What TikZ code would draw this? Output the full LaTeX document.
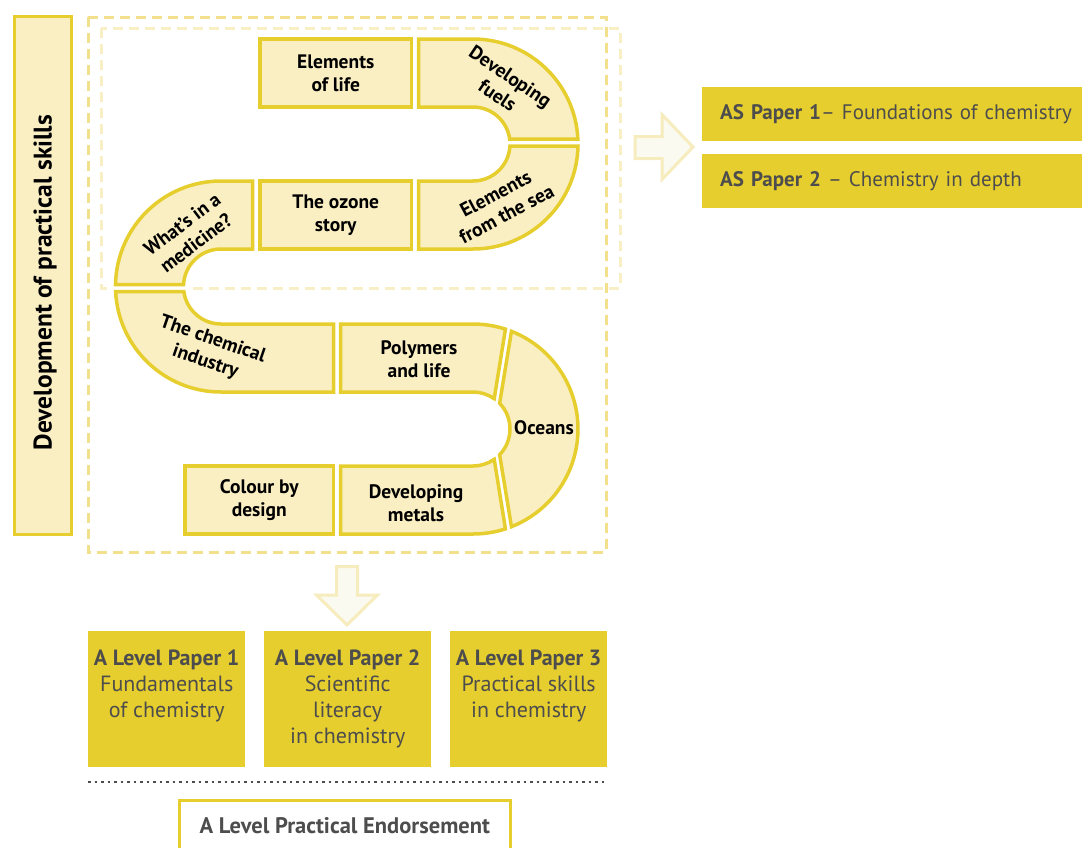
\documentclass[tikz,border=0pt]{standalone}
\usepackage{fontspec}
\setmainfont{PT Sans}
\usetikzlibrary{positioning}
\definecolor{gold}{HTML}{E6CE2E}
\definecolor{cream}{HTML}{FAEEC3}
\definecolor{dashgold}{HTML}{F2E08C}
\definecolor{dashpale}{HTML}{F8EFC6}
\definecolor{inkgray}{HTML}{4D4D4D}
\definecolor{arrowfill}{HTML}{FAFAF0}
\definecolor{arrowline}{HTML}{F6ECBE}

\begin{document}
\begin{tikzpicture}[x=1pt,y=-1pt]

\tikzset{tile/.style={draw=gold, fill=cream, line width=3.5pt},
  tiletext/.style={font=\fontsize{19.5}{23}\selectfont\bfseries, align=center, inner sep=0pt},
  paper/.style={fill=gold, minimum height=136pt, inner sep=0pt, anchor=north west},
  papertext/.style={text=inkgray, align=center, inner sep=0pt, font=\fontsize{22}{26}\selectfont},
  asbox/.style={fill=gold, text=inkgray, anchor=north west, minimum height=54pt,
    inner xsep=18pt, text width=360pt, align=left, font=\fontsize{21}{24}\selectfont},
  hollow/.style={draw=arrowline, fill=arrowfill, line width=3pt},
  dashframe/.style={line width=3pt, dash pattern=on 10pt off 6pt}}

\useasboundingbox (0,0) rectangle (1082,847);

% frames
\draw[dashframe, dashgold] (88,17) rectangle (606,552);
\draw[dashframe, dashpale] (101,28) rectangle (620,288);
\fill[white] (110,284) rectangle (190,290);

\node[tile, minimum width=57pt, minimum height=518pt] (skills) at (43,275.5) {};
\node[tiletext, rotate=90, font=\fontsize{25.5}{28}\selectfont\bfseries] (skillstext) at (45,282.5)
  {Development of practical skills};

% the track
\node[tile, tiletext, minimum width=151.5pt, minimum height=68pt] (life) at (335.75,73) {Elements\\of life};
\draw[tile] (418.5,39) -- (473,39) arc[start angle=-90, end angle=-2.73, radius=105]
  -- (509.66,139) arc[start angle=-7.77, end angle=-90, radius=37] -- (418.5,107) -- cycle;
\draw[tile] (418.5,181) -- (473,181) arc[start angle=90, end angle=3.10, radius=37]
  -- (577.98,146) arc[start angle=1.09, end angle=90, radius=105] -- (418.5,249) -- cycle;
\node[tile, tiletext, minimum width=151.5pt, minimum height=68pt] (ozone) at (335.75,215) {The ozone\\story};
\draw[tile] (252.5,181) -- (221,181) arc[start angle=-90, end angle=-178.91, radius=105.5]
  -- (183.55,284.5) arc[start angle=-176.94, end angle=-90, radius=37.5] -- (252.5,249) -- cycle;
\draw[tile] (333.5,324) -- (221,324) arc[start angle=90, end angle=172.34, radius=37.5]
  -- (115.62,291.5) arc[start angle=177.28, end angle=90, radius=105.5] -- (333.5,392) -- cycle;
\draw[tile] (340.5,324) -- (473,324) arc[start angle=-90, end angle=-72, radius=105]
  -- (494.22,398.69) arc[start angle=-55, end angle=-90, radius=37] -- (340.5,392) -- cycle;
\draw[tile] (511.45,331.3) arc[start angle=-68.5, end angle=68.5, radius=105]
  -- (499.62,454.7) arc[start angle=44, end angle=-44, radius=37] -- cycle;
\draw[tile] (340.5,466) -- (473,466) arc[start angle=90, end angle=55, radius=37]
  -- (505.45,528.86) arc[start angle=72, end angle=90, radius=105] -- (340.5,534) -- cycle;
\node[tile, tiletext, minimum width=148.5pt, minimum height=68pt] (colour) at (259.25,500) {Colour by\\design};

\node[tiletext, rotate=-34] (fuels) at (504,86) {Developing\\fuels};
\node[tiletext, rotate=28] (sea) at (501,204) {Elements\\from the sea};
\node[tiletext, rotate=37] (medicine) at (189,233.5) {What’s in a\\medicine?};
\node[tiletext, rotate=-19] (chemical) at (209,351) {The chemical\\industry};
\node[tiletext] (polymers) at (419,359) {Polymers\\and life};
\node[tiletext] (oceans) at (544,428) {Oceans};
\node[tiletext] (metals) at (416,503) {Developing\\metals};

% AS papers
\draw[hollow] (635,136.5) -- (662,136.5) -- (662,114.5) -- (693,147) -- (662,179.5)
  -- (662,158.5) -- (635,158.5) -- cycle;
\node[asbox] (as1) at (702,87) {\textbf{AS Paper 1}– Foundations of chemistry};
\node[asbox] (as2) at (702,154) {\textbf{AS Paper 2} – Chemistry in depth};

% A level papers
\draw[hollow] (336.5,566.5) -- (357.5,566.5) -- (357.5,595) -- (377.5,595) -- (347,625)
  -- (316.5,595) -- (336.5,595) -- cycle;
\node[paper, minimum width=157pt] (p1) at (88,631) {};
\node[paper, minimum width=167pt] (p2) at (264,631) {};
\node[paper, minimum width=157pt] (p3) at (450,631) {};
\node[papertext, below=19pt of p1.north] (p1text) {\textbf{A Level Paper 1}\\Fundamentals\\of chemistry};
\node[papertext, below=19pt of p2.north] (p2text) {\textbf{A Level Paper 2}\\Scientific\\literacy\\in chemistry};
\node[papertext, below=19pt of p3.north] (p3text) {\textbf{A Level Paper 3}\\Practical skills\\in chemistry};

\draw[inkgray, line width=2.5pt, dash pattern=on 2.5pt off 4pt] (88,782) -- (606,782);

\node[draw=gold, line width=3pt, fill=white, minimum width=331.5pt, minimum height=51pt,
  anchor=north, text=inkgray, font=\fontsize{22.5}{26}\selectfont\bfseries] (endorse) at (344.75,798.5)
  {A Level Practical Endorsement};

\end{tikzpicture}
\end{document}
